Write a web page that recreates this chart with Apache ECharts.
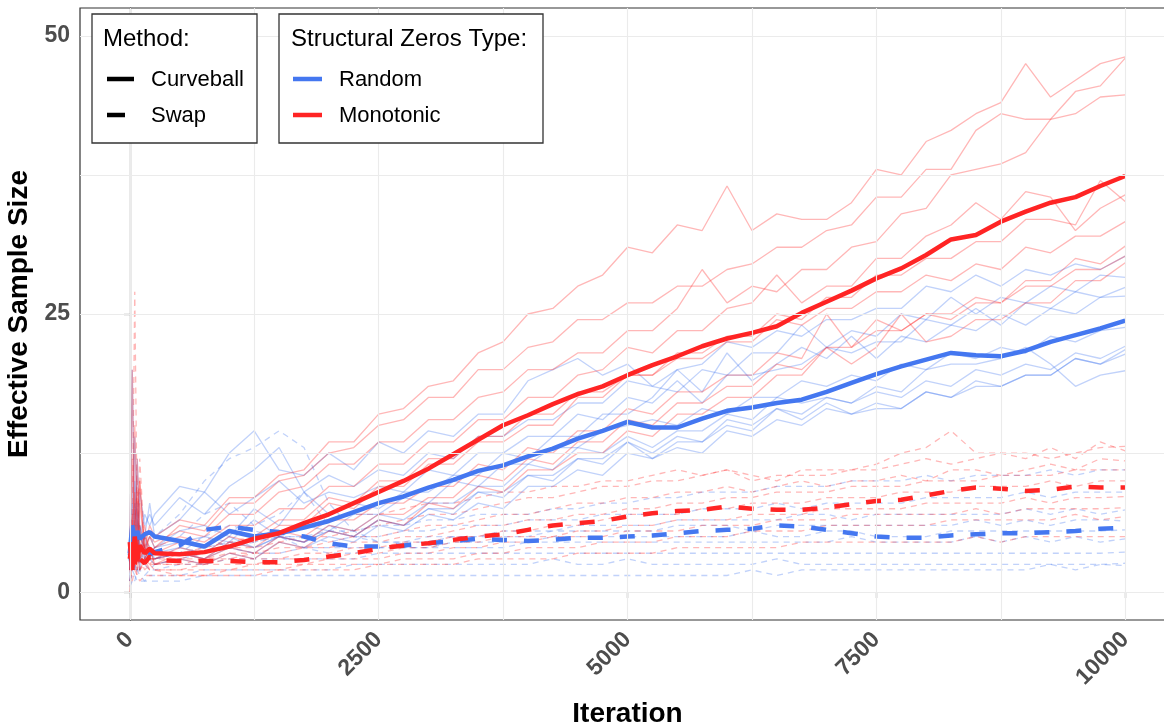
<!DOCTYPE html>
<html>
<head>
<meta charset="utf-8">
<script src="https://cdn.jsdelivr.net/npm/echarts@6/dist/echarts.min.js"></script>
<style>
    html, body { margin: 0; padding: 0; background: #fff; }
    #main { width: 1164px; height: 725px; }
</style>
</head>
<body>
<div id="main"></div>
<script>
// iteration grid shared by every run
var iterations = [0, 25, 50, 75, 100, 150, 200,
    250, 500, 750, 1000, 1250, 1500, 1750, 2000, 2250, 2500,
    2750, 3000, 3250, 3500, 3750, 4000, 4250, 4500, 4750, 5000,
    5250, 5500, 5750, 6000, 6250, 6500, 6750, 7000, 7250, 7500,
    7750, 8000, 8250, 8500, 8750, 9000, 9250, 9500, 9750, 10000];

var xTicks = [0, 2500, 5000, 7500, 10000];
var yTicks = [0, 25, 50];
var xGrid = [0, 1250, 2500, 3750, 5000, 6250, 7500, 8750, 10000];
var yGrid = [0, 12.5, 25, 37.5, 50];

// averages (thick lines)
var meanMonoCurveball = [4.5, 2, 5, 2.8, 4.2, 3.5, 3.9,
    3.5, 3.4, 3.6, 4.1, 4.8, 5.3, 6.2, 7.0, 8.0, 9.0,
    10.0, 11.1, 12.4, 13.7, 15.0, 15.9, 16.9, 17.8, 18.5, 19.5,
    20.4, 21.2, 22.1, 22.8, 23.3, 23.9, 25.1, 26.1, 27.1, 28.2,
    29.1, 30.3, 31.7, 32.1, 33.3, 34.2, 35.0, 35.5, 36.5, 37.4];
var meanRandomCurveball = [3.5, 6, 4.5, 5.5, 4.8, 5.2, 5.4,
    5.0, 4.6, 4.1, 5.5, 5.0, 5.3, 5.8, 6.4, 7.2, 8.0,
    8.6, 9.4, 10.1, 10.9, 11.4, 12.2, 12.9, 13.8, 14.5, 15.3,
    14.8, 14.8, 15.6, 16.3, 16.6, 17.0, 17.3, 18.0, 18.8, 19.6,
    20.3, 20.9, 21.5, 21.3, 21.2, 21.7, 22.5, 23.1, 23.7, 24.4];
var meanMonoSwap = [3, 4.5, 2.5, 3.8, 3, 2.6, 3.2,
    2.9, 2.8, 2.8, 2.8, 2.7, 2.7, 2.9, 3.2, 3.5, 3.9,
    4.2, 4.4, 4.7, 5.0, 5.2, 5.6, 6.0, 6.2, 6.4, 6.8,
    7.1, 7.3, 7.4, 7.7, 7.5, 7.4, 7.4, 7.6, 7.9, 8.2,
    8.3, 8.7, 9.1, 9.4, 9.3, 9.1, 9.2, 9.5, 9.4, 9.4];
var meanRandomSwap = [3.5, 2.2, 4, 3, 3.6, 3.2, 3.4,
    3.6, 4.2, 5.6, 5.9, 5.6, 5.4, 5.0, 4.4, 4.1, 4.1,
    4.2, 4.4, 4.6, 4.8, 4.7, 4.6, 4.7, 4.9, 4.9, 5.0,
    5.1, 5.3, 5.5, 5.6, 5.7, 6.0, 5.9, 5.6, 5.3, 5.0,
    4.9, 4.9, 5.1, 5.2, 5.3, 5.3, 5.4, 5.5, 5.7, 5.8];

// individual runs (faint lines)
var runsMonoCurveball = [
    [3, 20, 4, 12, 5, 4, 6, 5, 6.5, 6, 8.5, 8.5, 10.5, 11, 13.5, 13.5, 16, 16.5, 18.5, 19, 21.5, 22.5, 25, 25.5, 27.5, 28.5, 31, 30.5, 33, 32.5, 36.5, 32.5, 34, 33.5, 33.5, 35, 38, 37.5, 40.5, 41.5, 43, 44, 47.5, 44.5, 46, 47.5, 48.1],
    [2, 5, 3, 7, 10, 4, 5, 4, 6, 5.5, 8, 8, 10, 10.5, 12.5, 13, 15, 15.5, 17.5, 17.5, 20, 20, 22, 22.5, 24.5, 24.5, 26, 26, 27.5, 27.5, 29, 29.5, 31, 31, 32.5, 33, 35.5, 35.5, 38, 38, 41.5, 43, 42.5, 42.5, 45, 45.5, 48],
    [2.5, 6, 9, 4, 6, 3.5, 5, 4.5, 5.5, 5, 7, 7, 9, 9.5, 11.5, 11.5, 13.5, 13.5, 15.5, 15.5, 17.5, 18, 20, 20, 21.5, 21.5, 23.5, 23.5, 25.5, 29, 26, 27.5, 27, 29, 29, 31, 31.5, 34, 34.5, 37.5, 38, 38.5, 39.5, 42.5, 43, 44.5, 44.7],
    [3, 12, 5, 3, 8, 4, 3.5, 4, 5, 4.5, 6, 6, 7.5, 7.5, 9.5, 9.5, 11.5, 11.5, 13.5, 13.5, 15.5, 15.5, 17.5, 17.5, 19.5, 20, 22, 21.5, 23.5, 23.5, 25.5, 26, 28.5, 26, 27.5, 27.5, 30, 30, 32, 33, 35, 33.5, 36, 35.5, 32.5, 34.5, 35.7],
    [2, 4, 15, 6, 3, 5, 4, 3.5, 4.5, 4, 5.5, 5, 6.5, 6.5, 8.5, 8, 10, 10, 12, 12, 14, 14, 16, 16, 18, 18, 19.5, 19.5, 21.5, 21.5, 23, 23, 25, 24.5, 26.5, 26.5, 28.5, 28.5, 30, 30, 31.5, 31.5, 33.5, 33.5, 33, 37, 35.1],
    [4, 2, 6, 9, 3, 4, 3, 3, 4, 3.5, 5, 4.5, 6, 6, 8, 7.5, 9.5, 9.5, 11.5, 11.5, 13.5, 13.5, 15, 15, 17.5, 17.5, 19.5, 19.5, 21, 21, 22.5, 22.5, 24.5, 24, 25.5, 25.5, 27, 27, 28.5, 28, 29.5, 29, 31, 30.5, 32, 32, 33.3],
    [5, 7, 3, 4, 10, 3, 2.5, 2.5, 3.5, 3, 4.5, 4, 5.5, 5, 6.5, 6.5, 8, 8, 9.5, 9.5, 11.5, 11, 13, 12.5, 14.5, 14.5, 16.5, 16, 18, 18, 19.5, 19.5, 21.5, 21, 25, 22, 24.5, 23.5, 25, 25, 26.5, 26, 28, 28, 30, 29.5, 31.1],
    [0, 3, 5, 2, 4, 6, 3, 3, 3.5, 3, 4, 3.5, 5, 4.5, 6, 5.5, 7, 7, 8.5, 8.5, 10.5, 10, 12, 11.5, 13.5, 13.5, 15.5, 15, 17, 17, 18.5, 18.5, 20.5, 20, 22, 22, 23.5, 23.5, 25, 24.5, 26, 26, 27.5, 27.5, 29, 29, 30.2],
    [2, 6, 3, 5, 2, 3, 4, 2.5, 3, 2.5, 3.5, 3, 4.5, 4, 5.5, 5, 6.5, 6, 8, 7.5, 9.5, 9, 11, 11, 12.5, 12.5, 14.5, 14, 16, 16, 17.5, 17.5, 19.5, 19.5, 22, 20.5, 22, 25, 22.5, 23, 24.5, 24.5, 26, 26, 28, 28, 29.6]
];
var runsRandomCurveball = [
    [3, 20, 6, 8, 5, 7, 6, 7, 9.5, 9, 12.5, 14.5, 11, 10.5, 12.5, 11, 13.5, 12.5, 14.5, 14, 16, 16, 19, 20, 21, 19.5, 20.5, 18.5, 20, 20.5, 22.5, 22, 23.5, 23, 24.5, 24.5, 25.5, 25.5, 27.5, 27, 28.5, 27.5, 29, 28.5, 29.5, 29, 30.2],
    [2, 8, 14, 5, 9, 6, 7, 6, 8.5, 7, 9.5, 11, 13, 9, 10.5, 9.5, 11, 10.5, 12.5, 12, 14, 14, 15.5, 15.5, 17, 17, 19, 18.5, 18, 20, 19.5, 21.5, 21.5, 24, 22, 23.5, 23, 25, 24.5, 26.5, 25, 26.5, 26, 27.5, 27, 28.5, 28.3],
    [4, 3, 10, 6, 4, 5, 8, 5, 6.5, 9, 7, 8.5, 10, 8, 9, 8.5, 9.5, 9, 11, 10.5, 12.5, 12.5, 14, 14, 16, 15.5, 17.5, 17, 19, 17, 19.5, 19.5, 20, 20.5, 22, 21.5, 22.5, 22.5, 24.5, 24, 25.5, 24, 26, 25.5, 27, 26.5, 27.4],
    [1, 6, 4, 12, 6, 4, 5, 4, 5.5, 6, 5, 7.5, 6, 9, 7, 8, 7.5, 9, 9, 10.5, 10.5, 12.5, 12, 14, 14, 16, 16, 17.5, 20, 18, 21.5, 19, 20.5, 22, 21, 23, 21, 23, 22.5, 24, 23.5, 25, 24, 25.5, 25, 26.5, 26.6],
    [2, 4, 8, 3, 5, 4, 3.5, 4, 4.5, 5, 4.5, 6.5, 5, 6, 5.5, 7, 7, 8.5, 8, 10, 9.5, 11.5, 11.5, 13, 13, 14.5, 15, 15.5, 15, 16.5, 16, 17.5, 17.5, 19, 18.5, 19.5, 19, 20.5, 20, 21.5, 21, 22, 21.5, 23, 22.5, 23.5, 23.8],
    [3, 5, 2, 7, 4, 3, 4, 3.5, 4, 3.5, 5, 4, 5, 4.5, 6, 5.5, 7, 6.5, 8, 8, 9.5, 9.5, 11.5, 11, 13, 12.5, 14, 13, 14.5, 14.5, 16, 15.5, 17.5, 17, 17.5, 17, 18, 17.5, 19, 18.5, 20, 19.5, 20.5, 20, 21.5, 21, 22.1],
    [5, 3, 6, 4, 2, 5, 3, 3, 3.5, 3, 4.5, 4, 5, 4.5, 5.5, 5, 6.5, 6, 7.5, 7, 9, 8.5, 10.5, 10, 12, 11.5, 13.5, 12, 13.5, 13.5, 15, 14.5, 16.5, 15.5, 17, 16, 16.5, 16.5, 18, 17.5, 18.5, 18.5, 19.5, 19.5, 21, 20.5, 21.8],
    [2, 4, 3, 5, 3, 2.5, 3, 2.5, 3, 2.5, 3.5, 3, 4.5, 4, 5, 4.5, 6, 5.5, 7, 6.5, 8, 7.5, 9.5, 9.5, 11, 10.5, 12.5, 12, 13, 12.5, 14.5, 14, 15.5, 15, 16.5, 16, 17, 16.5, 18, 17.5, 19, 18.5, 19.5, 19.5, 21, 20.5, 21.4],
    [4, 2, 5, 3, 6, 3, 4, 3, 3.5, 3, 4, 3.5, 5, 4.5, 5.5, 5, 6.5, 6, 7.5, 7.5, 9, 9, 10.5, 10.5, 12, 12, 13.5, 12.5, 14, 13.5, 15.5, 15, 16.5, 16, 17.5, 17, 18.5, 18, 20, 20.5, 20.5, 21, 22, 20.5, 18.5, 19.5, 19.9]
];
var runsMonoSwap = [
    [3, 5, 27, 6, 3, 4, 3, 3, 3.5, 4, 4.5, 5, 5.5, 6, 6.5, 7, 7, 7.5, 8, 8, 8.5, 9, 9, 9.5, 9.5, 10, 10, 10.5, 11, 10.5, 11, 10, 10.5, 10.5, 10.5, 11, 11.5, 12.5, 13, 14.5, 12.5, 12.5, 12.5, 12, 12.5, 13, 13.1],
    [2, 4, 8, 3, 12, 4, 2.5, 3, 3, 3.5, 4, 4, 4.5, 5, 5, 5.5, 6, 6.5, 7, 7, 7.5, 8, 8.5, 8.5, 9, 9.5, 9.5, 10, 10, 10.5, 11, 10.5, 10, 11, 11, 11, 11, 11.5, 12, 11.5, 12, 12.5, 12, 13, 12, 13.5, 12.7],
    [4, 2, 6, 10, 3, 5, 3, 2.5, 3, 3, 3.5, 3.5, 4, 4, 4.5, 5, 5, 5.5, 6, 6, 6.5, 7, 7, 7.5, 8, 8, 8.5, 8.5, 9, 9, 9.5, 9, 9.5, 10, 9.5, 10, 10, 10.5, 10, 11, 11, 10.5, 11, 11.5, 11, 12, 11.8],
    [2, 6, 3, 4, 2, 3, 4, 2.5, 2.5, 3, 3, 3.5, 3.5, 4, 4, 4.5, 4.5, 5, 5, 5.5, 6, 6, 6.5, 6.5, 7, 7, 7.5, 7.5, 8, 8, 8.5, 8.5, 9, 9, 9, 9.5, 9.5, 9.5, 10, 10, 10, 10.5, 10.5, 10.5, 11, 11, 11],
    [3, 3, 5, 2, 4, 2.5, 3, 2.5, 2.5, 2.5, 3, 3, 3, 3.5, 3.5, 4, 4, 4.5, 4.5, 5, 5, 5.5, 5.5, 6, 6, 6.5, 7, 7, 7, 7.5, 7.5, 8, 8, 8, 8.5, 8.5, 8.5, 9, 9, 9, 9.5, 9.5, 9.5, 10, 9.5, 10, 10],
    [1, 3, 2, 5, 3, 2, 2.5, 2, 2, 2.5, 2.5, 2.5, 3, 3, 3, 3.5, 3.5, 4, 4, 4.5, 4.5, 5, 5, 5, 5.5, 5.5, 6, 6, 6.5, 6.5, 6.5, 7, 7, 7, 7.5, 7.5, 7.5, 7.5, 8, 8, 8, 8, 8.5, 8, 8.5, 8.5, 8.6],
    [2, 2, 4, 3, 2, 3, 2, 2, 2, 2, 2, 2.5, 2.5, 2.5, 3, 3, 3, 3.5, 3.5, 4, 4, 4.5, 4.5, 5, 5, 5, 5.5, 5.5, 5.5, 6, 6, 6, 6.5, 6.5, 6.5, 7, 7, 7, 7, 7, 7.5, 7, 7.5, 7.5, 7.5, 7.5, 7.6],
    [1, 2, 3, 1.5, 2, 2.5, 2, 2, 1.5, 1.5, 2, 2, 2, 2.5, 2.5, 2.5, 2.5, 3, 3, 3, 3.5, 3.5, 4, 4, 4, 4.5, 4.5, 4.5, 5, 5, 5, 5.5, 5.5, 5.5, 6, 6, 6, 6, 6, 6.5, 6.5, 6.5, 6.5, 6.5, 7, 6.5, 6.8],
    [2, 1, 2, 1.5, 1, 1.5, 1.5, 1.5, 1.5, 1.5, 1.5, 1.5, 2, 2, 2, 2, 2.5, 2.5, 2.5, 2.5, 3, 3, 3, 3, 3.5, 3.5, 3.5, 3.5, 4, 4, 4, 4, 4, 4.5, 4.5, 4.5, 4.5, 4.5, 4.5, 4.5, 5, 4.5, 5, 5, 5, 5, 5]
];
var runsRandomSwap = [
    [3, 5, 2, 4, 3, 3.5, 3, 3, 3.5, 4, 4.5, 4.5, 5, 5, 5.5, 5.5, 6, 6, 6.5, 6.5, 7, 7, 7, 7.5, 7.5, 8, 8, 8.5, 8.5, 9, 9, 9, 9.5, 9.5, 9.5, 10, 10, 10, 10.5, 10, 10.5, 10.5, 10.5, 11, 10.5, 11, 11],
    [2, 3, 4, 6, 3, 2.5, 3, 3, 3.5, 5, 6, 5.5, 5, 5, 4.5, 5, 5, 5.5, 5.5, 6, 6, 6, 6.5, 6.5, 6.5, 7, 7, 7, 7, 7.5, 7.5, 7.5, 8, 7.5, 8, 8, 8, 8, 8.5, 8.5, 8.5, 8.5, 9, 8.5, 9, 9, 9],
    [4, 8, 3, 5, 4, 5, 4, 5, 7, 10, 12, 13, 14.5, 13, 8, 5.5, 4.5, 4.5, 5, 5, 5, 5.5, 5.5, 5.5, 6, 6, 6, 6, 6.5, 6.5, 6.5, 6.5, 6.5, 7, 7, 6.5, 7, 7, 7, 7, 7, 7, 7.5, 7, 7.5, 7, 7.4],
    [3, 2, 5, 3, 6, 4, 3, 4, 5, 7, 8, 6, 7, 9, 6, 5, 4.5, 4.5, 4.5, 5, 5, 5, 5, 5.5, 5.5, 5.5, 5.5, 5.5, 6, 6, 6, 5.5, 6, 6, 6, 6, 6, 6, 6, 6, 6.5, 6, 6.5, 6, 6.5, 6.5, 6.4],
    [2, 3, 2, 4, 2.5, 3, 3.5, 3, 4, 5, 4, 4.5, 5, 4, 4, 4, 4, 4, 4, 4.5, 4.5, 4.5, 4.5, 5, 5, 5, 5, 5, 5, 5, 5, 5.5, 5, 5, 5.5, 5.5, 5, 5, 5, 5.5, 5.5, 5.5, 5.5, 5.5, 5.5, 5.5, 5.6],
    [2, 2, 3, 2, 3, 2.5, 2, 2.5, 3, 3.5, 4, 3.5, 3.5, 4, 3.5, 3.5, 4, 4, 4, 4, 4, 4, 4.5, 4.5, 4.5, 4.5, 4.5, 4.5, 4.5, 4.5, 4.5, 4.5, 4.5, 4.5, 4.5, 5, 4.5, 4.5, 4.5, 4.5, 5, 4.5, 5, 4.5, 5, 4.5, 4.8],
    [1, 2, 1.5, 2, 2, 1.5, 2, 2, 2.5, 2.5, 3, 3, 3, 3, 3, 3, 3.5, 3.5, 3.5, 3.5, 3.5, 3.5, 3.5, 3.5, 3.5, 3.5, 3.5, 3.5, 3.5, 3.5, 3.5, 3.5, 3.5, 3.5, 3.5, 3.5, 3.5, 3.5, 3.5, 3.5, 3.5, 3.5, 3.5, 3.5, 3.5, 3.5, 3.6],
    [1, 1.5, 1, 2, 1.5, 1, 1.5, 1.5, 1.5, 2, 2, 2, 2, 2, 2, 2.5, 2.5, 2.5, 2.5, 2.5, 2.5, 2.5, 2.5, 3, 2.5, 2.5, 3, 2.5, 2.5, 2.5, 2.5, 2.5, 3, 2.5, 2.5, 2.5, 2.5, 2.5, 2.5, 2.5, 2.5, 2.5, 2.5, 2.5, 2.5, 2.5, 2.6],
    [0.5, 1, 1.5, 1, 1, 1, 1, 1, 1, 1.5, 1.5, 1.5, 1.5, 1.5, 1.5, 1.5, 1.5, 1.5, 1.5, 1.5, 1.5, 1.5, 1.5, 1.5, 1.5, 1.5, 1.5, 1.5, 1.5, 1.5, 1.5, 2, 1.5, 2, 2, 2, 2, 2, 2, 2, 2, 2, 2, 2.5, 2, 2.5, 2.4]
];

var RED = '#ff2424';
var BLUE = '#4477f0';
var RED_FAINT = 'rgba(255,36,36,0.33)';
var BLUE_FAINT = 'rgba(68,119,240,0.33)';
var FONT = '"Liberation Sans", Arial, sans-serif';

function toPoints(ys) {
    return iterations.map(function (x, i) { return [x, ys[i]]; });
}

function lineSeries(ys, color, width, dash, z) {
    return {
        type: 'line',
        data: toPoints(ys),
        symbol: 'none',
        showSymbol: false,
        silent: true,
        animation: false,
        z: z,
        lineStyle: { color: color, width: width, type: dash ? dash : 'solid', cap: 'butt' }
    };
}

var series = [];

// grid lines (major + minor) drawn through the axes
series.push({
    type: 'line',
    data: [],
    z: 1,
    silent: true,
    animation: false,
    markLine: {
        silent: true,
        animation: false,
        symbol: ['none', 'none'],
        label: { show: false },
        lineStyle: { color: '#ebebeb', type: 'solid', width: 1.1 },
        data: xGrid.map(function (v) { return { xAxis: v }; })
            .concat(yGrid.map(function (v) { return { yAxis: v }; }))
    }
});

runsRandomSwap.forEach(function (r) { series.push(lineSeries(r, BLUE_FAINT, 1.3, [6, 5], 2)); });
runsMonoSwap.forEach(function (r) { series.push(lineSeries(r, RED_FAINT, 1.3, [6, 5], 2)); });
runsRandomCurveball.forEach(function (r) { series.push(lineSeries(r, BLUE_FAINT, 1.3, null, 2)); });
runsMonoCurveball.forEach(function (r) { series.push(lineSeries(r, RED_FAINT, 1.3, null, 2)); });

series.push(lineSeries(meanRandomSwap, BLUE, 4.5, [15, 17], 3));
series.push(lineSeries(meanMonoSwap, RED, 4.5, [15, 17], 3));
series.push(lineSeries(meanRandomCurveball, BLUE, 4.5, null, 4));
series.push(lineSeries(meanMonoCurveball, RED, 4.5, null, 4));

var tickLabel = { fontFamily: FONT, fontSize: 23, fontWeight: 'bold', color: '#4d4d4d' };
var titleStyle = { fontFamily: FONT, fontSize: 28, fontWeight: 'bold', color: '#000' };

var option = {
    backgroundColor: '#fff',
    animation: false,
    grid: {
        left: 80, top: 8, width: 1095, height: 612,
        outerBoundsMode: 'none',
        containLabel: false,
        show: true, borderColor: '#333', borderWidth: 1.2, backgroundColor: 'transparent'
    },
    xAxis: {
        type: 'value',
        min: -500, max: 10500,
        name: 'Iteration',
        nameLocation: 'middle',
        nameGap: 80,
        nameTextStyle: titleStyle,
        axisLine: { show: true, lineStyle: { color: '#333', width: 1.2 } },
        axisTick: { show: true, length: 6, customValues: xTicks, lineStyle: { color: '#333', width: 1.2 } },
        axisLabel: Object.assign({
            customValues: xTicks, rotate: 45, margin: 16,
            formatter: function (v) { return String(v); }
        }, tickLabel),
        splitLine: { show: false }
    },
    yAxis: {
        type: 'value',
        min: -2.5, max: 52.5,
        name: 'Effective Sample Size',
        nameLocation: 'middle',
        nameGap: 31,
        nameTextStyle: titleStyle,
        axisLine: { show: true, lineStyle: { color: '#333', width: 1.2 } },
        axisTick: { show: true, length: 6, customValues: yTicks, lineStyle: { color: '#333', width: 1.2 } },
        axisLabel: Object.assign({ customValues: yTicks, margin: 10 }, tickLabel),
        splitLine: { show: false }
    },
    // ggplot style legend boxes
    graphic: [
        { type: 'rect', z: 100, shape: { x: 92, y: 14, width: 165, height: 129 }, style: { fill: '#fff', stroke: '#333', lineWidth: 1.3 } },
        { type: 'text', z: 101, x: 103, y: 39, style: { text: 'Method:', fontFamily: FONT, fontSize: 24, fill: '#000', verticalAlign: 'middle' } },
        { type: 'line', z: 101, shape: { x1: 107, y1: 79, x2: 134, y2: 79 }, style: { stroke: '#000', lineWidth: 4.5 } },
        { type: 'text', z: 101, x: 151, y: 80, style: { text: 'Curveball', fontFamily: FONT, fontSize: 22, fill: '#000', verticalAlign: 'middle' } },
        { type: 'line', z: 101, shape: { x1: 107, y1: 115, x2: 134, y2: 115 }, style: { stroke: '#000', lineWidth: 4.5, lineDash: [18, 12] } },
        { type: 'text', z: 101, x: 151, y: 116, style: { text: 'Swap', fontFamily: FONT, fontSize: 22, fill: '#000', verticalAlign: 'middle' } },

        { type: 'rect', z: 100, shape: { x: 279, y: 14, width: 264, height: 129 }, style: { fill: '#fff', stroke: '#333', lineWidth: 1.3 } },
        { type: 'text', z: 101, x: 291, y: 39, style: { text: 'Structural Zeros Type:', fontFamily: FONT, fontSize: 24, fill: '#000', verticalAlign: 'middle' } },
        { type: 'line', z: 101, shape: { x1: 293, y1: 79, x2: 322, y2: 79 }, style: { stroke: BLUE, lineWidth: 4.5 } },
        { type: 'text', z: 101, x: 339, y: 80, style: { text: 'Random', fontFamily: FONT, fontSize: 22, fill: '#000', verticalAlign: 'middle' } },
        { type: 'line', z: 101, shape: { x1: 293, y1: 115, x2: 322, y2: 115 }, style: { stroke: RED, lineWidth: 4.5 } },
        { type: 'text', z: 101, x: 339, y: 116, style: { text: 'Monotonic', fontFamily: FONT, fontSize: 22, fill: '#000', verticalAlign: 'middle' } }
    ],
    series: series
};

var chart = echarts.init(document.getElementById('main'));
chart.setOption(option);
</script>
</body>
</html>
